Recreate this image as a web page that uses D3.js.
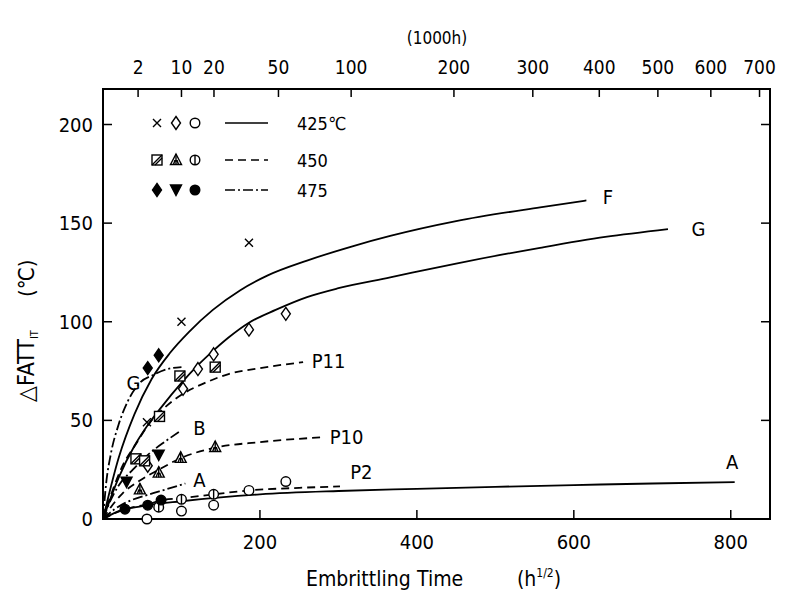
<!DOCTYPE html>
<html>
<head>
<meta charset="utf-8">
<script src="https://cdn.jsdelivr.net/npm/d3@7"></script>
<style>
  body { margin: 0; background: #fff; }
  text { font-family: "DejaVu Sans Condensed", "DejaVu Sans", sans-serif; font-stretch: condensed; fill: #000; }
</style>
</head>
<body>
<div id="chart"></div>
<script>
// axis ticks
const xTicks = [200, 400, 600, 800];
const yTicks = [0, 50, 100, 150, 200];
const topTicks = [2, 10, 20, 50, 100, 200, 300, 400, 500, 600, 700]; // in 1000h

// measured points (x in h^1/2, y in degC)
const crossPts = [[56, 49], [100, 100], [186, 140]];
const diamondPts = [[57, 27], [102, 66], [121, 76], [141, 83.5], [186, 96], [233, 104]];
const circlePts = [[56, 0], [100, 4], [141, 7], [186, 14.5], [233, 19]];
const boxPts = [[42, 30.5], [53, 29.5], [72, 52], [98, 72.5], [143, 77]];
const hatchTriPts = [[47, 15], [71, 23.5], [99, 31], [143, 36.5]];
const phiPts = [[71, 6], [100, 10], [141, 12.5]];
const fDiamondPts = [[57, 76.5], [71, 83]];
const fTriPts = [[30, 18.7], [71, 32.4]];
const fCirclePts = [[28, 5], [57, 7], [74, 9.6]];

// fitted curves
const curveF = [[0, 0], [20, 31], [40, 53], [62, 71], [85, 84], [110, 95], [140, 106], [175, 116], [210, 123.5], [260, 131], [320, 138.5], [366, 143.5], [450, 151], [557, 158], [616, 161.5]];
const curveG = [[0, 0], [20, 21], [40, 37], [56, 47], [75, 57], [100, 69], [121, 78], [141, 85.5], [160, 92], [186, 99.5], [220, 106], [260, 112.5], [300, 117], [366, 122.5], [450, 129.5], [557, 137.5], [640, 143], [720, 147]];
const curveA = [[0, 0], [20, 4], [50, 6.5], [100, 9], [150, 11], [200, 12.5], [300, 14.2], [400, 15.3], [500, 16.3], [600, 17.2], [700, 18], [805, 18.7]];
const curveP11 = [[0, 0], [10, 12], [25, 27], [42, 38], [60, 49], [80, 57], [100, 63], [130, 69], [160, 73.5], [200, 76.5], [255, 79.5]];
const curveP10 = [[0, 0], [10, 6], [25, 13], [47, 19.5], [71, 25], [100, 31], [141, 36], [200, 39], [283, 41.5]];
const curveP2 = [[0, 0], [28, 5], [57, 7.5], [75, 9.5], [100, 10.5], [141, 12.5], [186, 14.5], [250, 15.8], [302, 16.5]];
const curveG475 = [[0, 0], [4, 18], [10, 33], [20, 48], [32, 60], [47, 69], [64, 73], [82, 76], [100, 77]];
const curveB = [[0, 0], [8, 8], [20, 17], [38, 25], [60, 33.5], [80, 39.5], [98, 44.5]];
const curveA475 = [[0, 0], [15, 5], [30, 8.5], [55, 12], [80, 15], [105, 18]];

// curve labels
const curveLabels = [
    { t: "F", x: 637, y: 163 }, { t: "G", x: 750, y: 147 }, { t: "A", x: 794, y: 29 },
    { t: "P11", x: 266, y: 80 }, { t: "P10", x: 289, y: 41.5 }, { t: "P2", x: 315, y: 24 },
    { t: "B", x: 115, y: 46 }, { t: "A", x: 115, y: 20 }, { t: "G", x: 30, y: 69 }
];

const W = 788, H = 599;
const margin = { top: 89, right: 18, bottom: 80, left: 103 };

let svg = d3.select("#chart").append("svg")
    .attr("width", W)
    .attr("height", H);

let x = d3.scaleLinear().domain([0, 850]).range([margin.left, W - margin.right]);
let y = d3.scaleLinear().domain([0, 218]).range([H - margin.bottom, margin.top]);

const x0 = x(0), x1 = x(850), y0 = y(0), y1 = y(218);

//Frame
svg.append("rect")
    .attr("x", x0).attr("y", y1)
    .attr("width", x1 - x0).attr("height", y0 - y1)
    .style("fill", "none").style("stroke", "#000").style("stroke-width", 2);

//Ticks, all pointing inward
let tk = svg.append("g").style("stroke", "#000").style("stroke-width", 1.5);
xTicks.forEach(function (d) {
    tk.append("line").attr("x1", x(d)).attr("x2", x(d)).attr("y1", y0).attr("y2", y0 - 9);
});
yTicks.filter(d => d > 0).forEach(function (d) {
    tk.append("line").attr("x1", x0).attr("x2", x0 + 9).attr("y1", y(d)).attr("y2", y(d));
    tk.append("line").attr("x1", x1).attr("x2", x1 - 9).attr("y1", y(d)).attr("y2", y(d));
});
topTicks.forEach(function (d) {
    let px = x(Math.sqrt(d * 1000));
    tk.append("line").attr("x1", px).attr("x2", px).attr("y1", y1).attr("y2", y1 + 8);
});

//Tick labels
svg.selectAll(".xlab").data(xTicks).enter().append("text")
    .attr("x", d => x(d)).attr("y", y0 + 30)
    .attr("text-anchor", "middle").style("font-size", "20px")
    .text(d => d);
svg.selectAll(".ylab").data(yTicks).enter().append("text")
    .attr("x", x0 - 10).attr("y", d => y(d) + 7)
    .attr("text-anchor", "end").style("font-size", "20px")
    .text(d => d);
svg.selectAll(".tlab").data(topTicks).enter().append("text")
    .attr("x", d => x(Math.sqrt(d * 1000))).attr("y", y1 - 15)
    .attr("text-anchor", "middle").style("font-size", "19px")
    .text(d => d);
svg.append("text").attr("x", 437).attr("y", 44)
    .attr("text-anchor", "middle").style("font-size", "17px").text("(1000h)");

//Axis titles
let xt = svg.append("text").attr("y", 586).style("font-size", "21px");
xt.append("tspan").attr("x", 306).text("Embrittling");
xt.append("tspan").attr("x", 417).text("Time");
xt.append("tspan").attr("x", 517).text("(h");
xt.append("tspan").attr("dy", -9).style("font-size", "12px").text("1/2");
xt.append("tspan").attr("dy", 9).text(")");

let yt = svg.append("text")
    .attr("transform", "translate(34," + 402 + ") rotate(-90)")
    .style("font-size", "23px");
yt.append("tspan").text("\u25B3FATT");
yt.append("tspan").attr("dy", 4).style("font-size", "11px").text("IT");
yt.append("tspan").attr("dy", -4).attr("dx", 33).style("font-size", "22px").text("(\u2103)");

//Curves
let line = d3.line()
    .x(d => x(d[0]))
    .y(d => y(d[1]))
    .curve(d3.curveMonotoneX);

const solid = null, dashed = "8,5", dashdot = "10,3,2,3";
const curves = [
    [curveF, solid], [curveG, solid], [curveA, solid],
    [curveP11, dashed], [curveP10, dashed], [curveP2, dashed],
    [curveG475, dashdot], [curveB, dashdot], [curveA475, dashdot]
];
svg.append("g").selectAll("path").data(curves).enter().append("path")
    .attr("d", d => line(d[0]))
    .style("fill", "none")
    .style("stroke", "#000")
    .style("stroke-width", 1.8)
    .style("stroke-dasharray", d => d[1]);

//Curve labels
svg.selectAll(".clab").data(curveLabels).enter().append("text")
    .attr("x", d => x(d.x)).attr("y", d => y(d.y) + 7)
    .style("font-size", "20px")
    .text(d => d.t);

//Marker shapes
function marker(g, type, cx, cy) {
    let s = g.append("g").attr("transform", "translate(" + cx + "," + cy + ")")
        .style("stroke", "#000").style("stroke-width", 1.4).style("fill", "#fff");
    if (type === "cross") {
        s.append("path").attr("d", "M-4,-4L4,4M-4,4L4,-4").style("fill", "none");
    } else if (type === "diamond" || type === "fdiamond") {
        s.append("path").attr("d", "M0,-6.5L4.5,0L0,6.5L-4.5,0Z")
            .style("fill", type === "fdiamond" ? "#000" : "#fff");
    } else if (type === "circle" || type === "fcircle") {
        s.append("circle").attr("r", 4.8).style("fill", type === "fcircle" ? "#000" : "#fff");
    } else if (type === "phi") {
        s.append("circle").attr("r", 4.8);
        s.append("path").attr("d", "M0,-4.8L0,4.8");
    } else if (type === "box") {
        s.append("rect").attr("x", -5).attr("y", -5).attr("width", 10).attr("height", 10);
        s.append("path").attr("d", "M-5,5L5,-5M-2,5L5,-2");
    } else if (type === "htri") {
        s.append("path").attr("d", "M0,-6L5.5,4.5L-5.5,4.5Z");
        s.append("path").attr("d", "M0,-6L0,4.5M-2.5,4.5L-1,0M2.5,4.5L1,0");
    } else if (type === "ftri") {
        s.append("path").attr("d", "M-5.5,-5L5.5,-5L0,5.5Z").style("fill", "#000");
    }
}

const pointSets = [
    [crossPts, "cross"], [diamondPts, "diamond"], [circlePts, "circle"],
    [boxPts, "box"], [hatchTriPts, "htri"], [phiPts, "phi"],
    [fDiamondPts, "fdiamond"], [fTriPts, "ftri"], [fCirclePts, "fcircle"]
];
let pts = svg.append("g");
pointSets.forEach(function (set) {
    set[0].forEach(function (d) {
        marker(pts, set[1], x(d[0]), y(d[1]));
    });
});

//Legend
const legendRows = [
    { types: ["cross", "diamond", "circle"], dash: solid, label: "425\u2103", ly: 123 },
    { types: ["box", "htri", "phi"], dash: dashed, label: "450", ly: 160 },
    { types: ["fdiamond", "ftri", "fcircle"], dash: dashdot, label: "475", ly: 190 }
];
let lg = svg.append("g");
legendRows.forEach(function (r) {
    r.types.forEach(function (t, i) {
        marker(lg, t, 157 + i * 19, r.ly);
    });
    lg.append("line")
        .attr("x1", 225).attr("x2", 268).attr("y1", r.ly).attr("y2", r.ly)
        .style("stroke", "#000").style("stroke-width", 1.5)
        .style("stroke-dasharray", r.dash);
    lg.append("text").attr("x", 297).attr("y", r.ly + 7)
        .style("font-size", "18px").text(r.label);
});
</script>
</body>
</html>
